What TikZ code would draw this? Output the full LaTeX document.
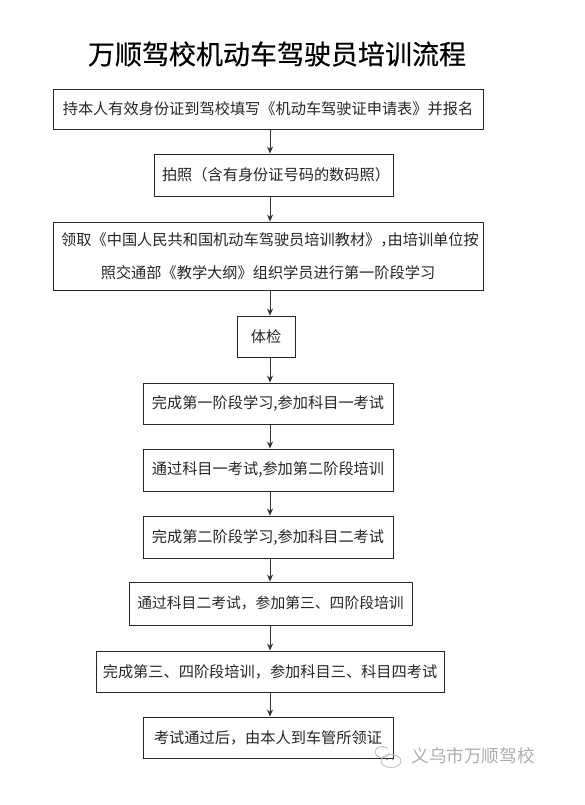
\documentclass[tikz,border=0pt]{standalone}
\usepackage{fontspec}
\setmainfont{Noto Sans CJK SC}
\newfontfamily\titlefont[FakeBold=0.4]{Noto Sans CJK SC}
\usetikzlibrary{arrows.meta}
\tikzset{
  x=1pt,y=-1pt,
  flowbox/.style={draw=black!85,line width=0.9pt,inner sep=0pt,align=center,text=black!85,
    font=\fontsize{15.2}{33}\selectfont},
  flowarrow/.style={draw=black!80,line width=0.9pt,-{Stealth[length=7pt,width=6pt]}},
  watermark/.style={text=black!32,font=\fontsize{17.6}{20}\selectfont,inner sep=0pt},
  wmicon/.style={draw=black!25,line width=0.9pt}
}
\begin{document}
\begin{tikzpicture}
\useasboundingbox (0,0) rectangle (584,805);
\fill[white] (0,0) rectangle (584,805);
\coordinate (ax) at (270,0);
\node[inner sep=0pt,text=black,font=\titlefont\fontsize{27}{30}\selectfont] (title) at (277,54) {万顺驾校机动车驾驶员培训流程};
\node[flowbox,minimum width=430pt,minimum height=40pt] (a) at (268,109) {持本人有效身份证到驾校填写《机动车驾驶证申请表》并报名};
\node[flowbox,minimum width=239pt,minimum height=42pt] (b) at (273.5,175) {\hspace{5pt}拍照（含有身份证号码的数码照）};
\node[flowbox,minimum width=430pt,minimum height=68pt] (c) at (268,256) {\hspace{4pt}领取《中国人民共和国机动车驾驶员培训教材》，\hspace{-8pt}由培训单位按\\照交通部《教学大纲》组织学员进行第一阶段学习};
\node[flowbox,minimum width=58pt,minimum height=41pt] (d) at (266,336.5) {体检};
\node[flowbox,minimum width=250pt,minimum height=41pt] (e) at (268,403.5) {完成第一阶段学习,参加科目一考试};
\node[flowbox,minimum width=250pt,minimum height=42pt] (f) at (268,470) {通过科目一考试,参加第二阶段培训};
\node[flowbox,minimum width=250pt,minimum height=42pt] (g) at (268,537) {完成第二阶段学习,参加科目二考试};
\node[flowbox,minimum width=283pt,minimum height=43pt,font=\fontsize{14.8}{33}\selectfont] (h) at (270.5,603.5) {通过科目二考试，参加第三、四阶段培训};
\node[flowbox,minimum width=348pt,minimum height=41pt] (i) at (270,671.5) {完成第三、四阶段培训，参加科目三、科目四考试};
\node[flowbox,minimum width=250pt,minimum height=41pt] (j) at (268,737.5) {考试通过后，由本人到车管所领证};
\foreach \p/\q in {a/b,b/c,c/d,d/e,e/f,f/g,g/h,h/i,i/j}
  \draw[flowarrow] (\p.south -| ax) -- (\q.north -| ax);
% watermark
\draw[wmicon] (389,753) arc (10:320:7 and 5.5);
\draw[wmicon] (391,761) ellipse (10 and 6.5);
\fill[black!40] (387,759.5) circle (0.9) (393,759.5) circle (0.9);
\node[watermark] (wm) at (473,756) {义乌市万顺驾校};
\end{tikzpicture}
\end{document}
